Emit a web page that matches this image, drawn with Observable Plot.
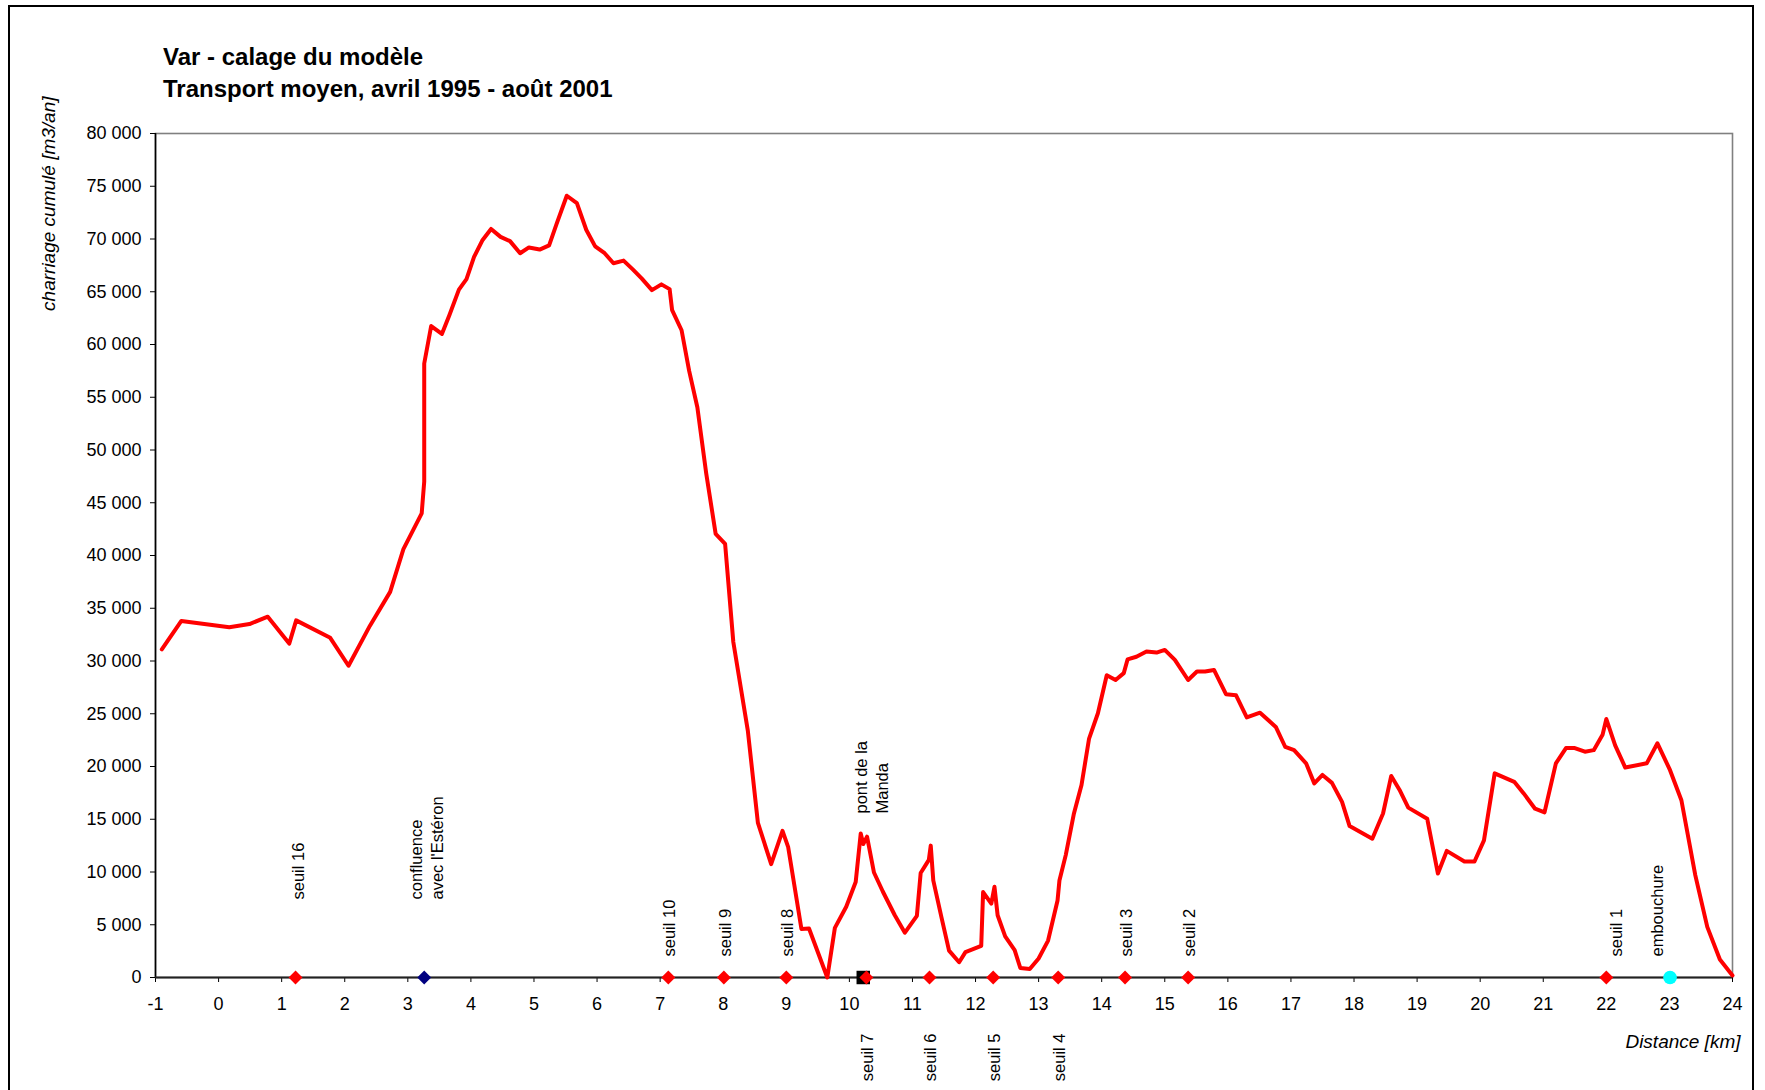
<!DOCTYPE html>
<html><head><meta charset="utf-8">
<script src="https://cdn.jsdelivr.net/npm/d3@7"></script>
<script src="https://cdn.jsdelivr.net/npm/@observablehq/plot@0.6"></script>
<style>
body{margin:0;background:#fff;font-family:"Liberation Sans",Arial,sans-serif;}
#wrap{position:relative;width:1765px;height:1090px;overflow:hidden;background:#fff;}
#border{position:absolute;left:8px;top:5px;width:1746px;height:1200px;border:2.5px solid #000;box-sizing:border-box;}
#title{position:absolute;left:163px;top:41px;font-weight:bold;font-size:24px;line-height:32px;color:#000;white-space:nowrap;}
#chart{position:absolute;left:0;top:0;}
</style></head>
<body>
<div id="wrap">
  <div id="border"></div>
  <div id="chart"></div>
  <div id="title">Var - calage du modèle<br>Transport moyen, avril 1995 - août 2001</div>
</div>
<script>
// Distance along the river [km]
const distanceKm = [
  -0.90, -0.59, 0.17, 0.49, 0.78, 1.12, 1.23, 1.77, 2.06, 2.40,
  2.72, 2.93, 3.22, 3.26, 3.26, 3.37, 3.54, 3.66, 3.81, 3.93,
  4.05, 4.18, 4.32, 4.47, 4.62, 4.78, 4.92, 5.09, 5.24, 5.36,
  5.52, 5.68, 5.83, 5.97, 6.12, 6.26, 6.42, 6.57, 6.71, 6.87,
  7.02, 7.15, 7.19, 7.34, 7.46, 7.59, 7.73, 7.88, 8.03, 8.16,
  8.39, 8.55, 8.76, 8.94, 9.03, 9.24, 9.36, 9.65, 9.77, 9.95,
  10.10, 10.18, 10.22, 10.28, 10.39, 10.53, 10.72, 10.88, 11.07, 11.13,
  11.26, 11.29, 11.33, 11.46, 11.58, 11.74, 11.84, 12.09, 12.12, 12.25,
  12.30, 12.35, 12.47, 12.62, 12.71, 12.86, 13.00, 13.15, 13.30, 13.33,
  13.43, 13.56, 13.68, 13.80, 13.94, 14.08, 14.22, 14.35, 14.41, 14.55,
  14.71, 14.87, 15.00, 15.16, 15.37, 15.51, 15.64, 15.78, 15.97, 16.13,
  16.30, 16.51, 16.76, 16.91, 17.05, 17.24, 17.37, 17.50, 17.65, 17.81,
  17.93, 18.29, 18.46, 18.59, 18.72, 18.86, 19.16, 19.33, 19.47, 19.75,
  19.91, 20.06, 20.23, 20.54, 20.69, 20.87, 21.02, 21.20, 21.36, 21.50,
  21.66, 21.80, 21.94, 22.00, 22.14, 22.30, 22.64, 22.81, 23.01, 23.19,
  23.41, 23.60, 23.80, 24.00
];
// Cumulated bedload transport [m3/an]
const charriage = [
  31100, 33800, 33200, 33500, 34200, 31650, 33850, 32200, 29550, 33350,
  36550, 40600, 44000, 47000, 58200, 61750, 61000, 62800, 65200, 66200,
  68300, 69850, 70950, 70200, 69800, 68650, 69200, 69000, 69400, 71450,
  74100, 73400, 70850, 69300, 68650, 67700, 67950, 67100, 66250, 65150,
  65700, 65250, 63250, 61350, 57500, 54050, 47800, 42050, 41100, 31800,
  23400, 14650, 10750, 13900, 12350, 4600, 4650, 0, 4700, 6700,
  9050, 13650, 12650, 13350, 9950, 8150, 5900, 4250, 5850, 9900,
  11150, 12500, 9200, 5700, 2550, 1450, 2400, 3000, 8100, 7000,
  8600, 5900, 3900, 2600, 900, 800, 1800, 3500, 7300, 9200,
  11600, 15550, 18250, 22650, 25050, 28650, 28200, 28850, 30150, 30400,
  30900, 30800, 31050, 30100, 28200, 29000, 29000, 29150, 26850, 26750,
  24650, 25100, 23750, 21850, 21550, 20300, 18400, 19200, 18450, 16650,
  14350, 13150, 15550, 19100, 17800, 16100, 15050, 9850, 12000, 11000,
  11000, 13000, 19350, 18550, 17450, 16000, 15650, 20300, 21750, 21750,
  21400, 21550, 23000, 24500, 22000, 19900, 20300, 22200, 19650, 16800,
  9700, 4800, 1700, 200
];
// Reference points along the river (all drawn on the 0 line)
const markerName = ["seuil 16", "confluence\navec l'Estéron", "seuil 10", "seuil 9", "seuil 8",
  "pont de la\nManda", "seuil 7", "seuil 6", "seuil 5", "seuil 4", "seuil 3", "seuil 2", "seuil 1", "embouchure"];
const markerKm = [1.22, 3.26, 7.13, 8.01, 9.00, 10.22, 10.27, 11.27, 12.28, 13.31, 14.37, 15.37, 22.00, 23.01];
const markerKind = ["seuil", "confluence", "seuil", "seuil", "seuil", "pont", "seuil", "seuil", "seuil", "seuil",
  "seuil", "seuil", "seuil", "embouchure"];
const markerValue = [0, 0, 0, 0, 0, 0, 0, 0, 0, 0, 0, 0, 0, 0];

const yTicks = d3.range(0, 80001, 5000);
const xTicks = d3.range(-1, 25, 1);

const profile = distanceKm.map((km, i) => ({km, v: charriage[i]}));
const markers = markerName.map((name, i) => ({name, km: markerKm[i], kind: markerKind[i], v: markerValue[i]}));

const below = new Set(["seuil 7", "seuil 6", "seuil 5", "seuil 4"]);
const high = new Set(["seuil 16", "confluence\navec l'Estéron"]);
const special = new Set(["seuil 1", "embouchure"]);
const labHigh = markers.filter(d => high.has(d.name));
const labPont = markers.filter(d => d.kind === "pont");
const labBelow = markers.filter(d => below.has(d.name));
const labLow = markers.filter(d => !high.has(d.name) && !below.has(d.name) && !special.has(d.name) && d.kind !== "pont");
const labSeuil1 = markers.filter(d => d.name === "seuil 1");
const labEmb = markers.filter(d => d.name === "embouchure");

const fmt = d => d3.format(",")(d).replace(/,/g, " ");

const labelOpts = {x: "km", y: "v", text: "name", rotate: -90, fontSize: 16.5, lineAnchor: "middle", lineHeight: 1.27, fill: "#000"};

const chart = Plot.plot({
  width: 1765,
  height: 1090,
  marginLeft: 155,
  marginRight: 33,
  marginTop: 133,
  marginBottom: 113,
  style: {fontFamily: "'Liberation Sans', Arial, sans-serif", fontSize: "18px", color: "#000", background: "transparent"},
  x: {domain: [-1, 24]},
  y: {domain: [0, 80000]},
  marks: [
    Plot.frame({stroke: "#808080", strokeWidth: 1.6}),
    Plot.axisY({ticks: yTicks, tickFormat: fmt, tickSize: 5, tickPadding: 9, fontSize: 18, label: null, stroke: "#000"}),
    Plot.axisX({ticks: xTicks, tickFormat: d => String(d), tickSize: 5, tickPadding: 15, fontSize: 18, label: null, stroke: "#000"}),
    Plot.ruleX([-1], {stroke: "#000", strokeWidth: 1.6}),
    Plot.ruleY([0], {stroke: "#222", strokeWidth: 2}),
    Plot.line(profile, {x: "km", y: "v", stroke: "#ff0000", strokeWidth: 4, strokeLinejoin: "round", strokeLinecap: "round"}),
    Plot.dot(markers.filter(d => d.kind === "pont"), {x: "km", y: "v", symbol: "square", r: 7.6, fill: "#000", stroke: "none"}),
    Plot.dot(markers.filter(d => d.kind === "seuil"), {x: "km", y: "v", symbol: "diamond2", r: 6.3, fill: "#ff0000", stroke: "none"}),
    Plot.dot(markers.filter(d => d.kind === "confluence"), {x: "km", y: "v", symbol: "diamond2", r: 6.3, fill: "#000080", stroke: "none"}),
    Plot.dot(markers.filter(d => d.kind === "embouchure"), {x: "km", y: "v", symbol: "circle", r: 6.8, fill: "#00ffff", stroke: "none"}),
    Plot.text(labHigh, {...labelOpts, textAnchor: "start", dy: -78, dx: 2}),
    Plot.text(labLow, {...labelOpts, textAnchor: "start", dy: -21}),
    Plot.text(labSeuil1, {...labelOpts, textAnchor: "start", dy: -21, dx: 9}),
    Plot.text(labEmb, {...labelOpts, textAnchor: "start", dy: -21, dx: -14}),
    Plot.text(labPont, {...labelOpts, textAnchor: "start", dy: -164, dx: 8}),
    Plot.text(labBelow, {...labelOpts, textAnchor: "end", dy: 56}),
    Plot.text(["charriage cumulé [m3/an]"], {frameAnchor: "top-left", rotate: -90, textAnchor: "end", dx: -114, dy: -37, fontStyle: "italic", fontSize: 19, fill: "#000"}),
    Plot.text(["Distance [km]"], {frameAnchor: "bottom-right", textAnchor: "end", dx: 8, dy: 70, fontStyle: "italic", fontSize: 19, fill: "#000"})
  ]
});
document.getElementById("chart").appendChild(chart);
</script>
</body></html>
